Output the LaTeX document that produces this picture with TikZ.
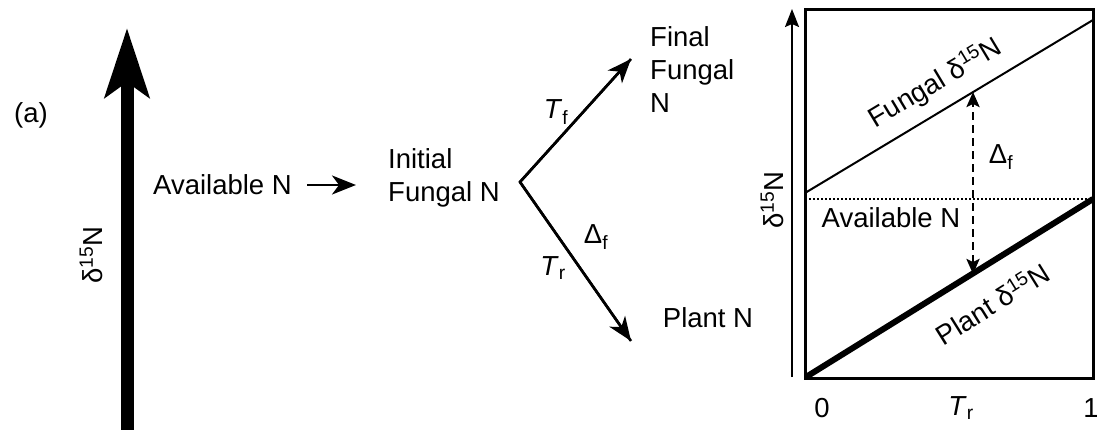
\documentclass[tikz,border=0pt]{standalone}
\usepackage{fontspec}
\setmainfont{Liberation Sans}
\usetikzlibrary{arrows.meta}
\tikzset{
  lbl/.style={inner sep=0pt, font=\fontsize{27.5}{33}\selectfont},
  flow/.style={line width=2.6pt, -{Stealth[length=24pt,width=19pt,inset=7pt]}},
  bigaxis/.style={line width=13pt, -{Stealth[length=69pt,width=44pt,inset=15pt]}},
  axisline/.style={line width=2pt, -{Stealth[length=18pt,width=14pt,inset=3pt]}},
  frame/.style={line width=3pt},
  fungline/.style={line width=2pt},
  plantline/.style={line width=6pt},
  refline/.style={line width=1.6pt, dash pattern=on 1.6pt off 2.4pt},
  gap/.style={line width=2.6pt, dash pattern=on 8pt off 5pt,
    {Stealth[length=15pt,width=13pt,inset=3pt]}-{Stealth[length=15pt,width=13pt,inset=3pt]}},
}
\begin{document}
\begin{tikzpicture}[x=1pt,y=1pt]
\useasboundingbox (0,0) rectangle (1097,429);

% panel tag and the large delta-15N axis
\node[lbl] (tag) at (31,314) {(a)};
\coordinate (bigfoot) at (127,-2);
\coordinate (bigtip) at (127,401);
\draw[bigaxis] (bigfoot) -- (bigtip);
\node[lbl, rotate=90] (bigylab) at (91,174) {δ\textsuperscript{15}N};

% nitrogen pools
\node[lbl, anchor=west] (avail) at (153,244) {Available N};
\node[lbl, anchor=west, align=left] (init) at (388,251) {Initial\\Fungal N};
\node[lbl, anchor=west, align=left] (final) at (650,359) {Final\\Fungal\\N};
\node[lbl] (plant) at (708,111) {Plant N};

\coordinate (inflowA) at (307,244);
\coordinate (inflowB) at (356,244);
\draw[flow] (inflowA) -- (inflowB);

% split of fungal N into fungus and plant
\coordinate (apex) at (520,247);
\coordinate (ftip) at (631,370);
\coordinate (ptip) at (631,88);
\draw[line width=2.6pt, line join=miter] (ftip) -- (apex) -- (ptip);
\draw[flow] (apex) -- (ftip);
\draw[flow] (apex) -- (ptip);
\node[lbl] (tf) at (556,317) {\textit{T}\textsubscript{f}};
\node[lbl] (df) at (596,192) {Δ\textsubscript{f}};
\node[lbl] (tr) at (553,161) {\textit{T}\textsubscript{r}};

% right-hand graph
\coordinate (bl) at (805,51);
\coordinate (tr0) at (1093,419);
\draw[frame] (bl) rectangle (tr0);
\coordinate (yfoot) at (792,52);
\coordinate (yhead) at (792,420);
\draw[axisline] (yfoot) -- (yhead);
\node[lbl, rotate=90] (ylab) at (772,229) {δ\textsuperscript{15}N};

\coordinate (fung0) at (805,236);
\coordinate (fung1) at (1093,409);
\coordinate (ref0) at (805,230);
\coordinate (ref1) at (1093,230);
\coordinate (plant0) at (806,52);
\coordinate (plant1) at (1093,230);
\draw[fungline] (fung0) -- (fung1);
\draw[refline] (ref0) -- (ref1);
\draw[plantline] (plant0) -- (plant1);

\node[lbl, rotate=31] (funglab) at (935,346) {Fungal δ\textsuperscript{15}N};
\node[lbl, rotate=32] (plantlab) at (992,126) {Plant δ\textsuperscript{15}N};
\node[lbl] (availlab) at (891,211) {Available N};

\coordinate (dtop) at (973,337);
\coordinate (dbot) at (973,155);
\draw[gap] (dbot) -- (dtop);
\node[lbl] (dlab) at (1001,272) {Δ\textsubscript{f}};

\node[lbl] (x0) at (822,21) {0};
\node[lbl] (xt) at (961,21) {\textit{T}\textsubscript{r}};
\node[lbl] (x1) at (1091,21) {1};
\end{tikzpicture}
\end{document}
